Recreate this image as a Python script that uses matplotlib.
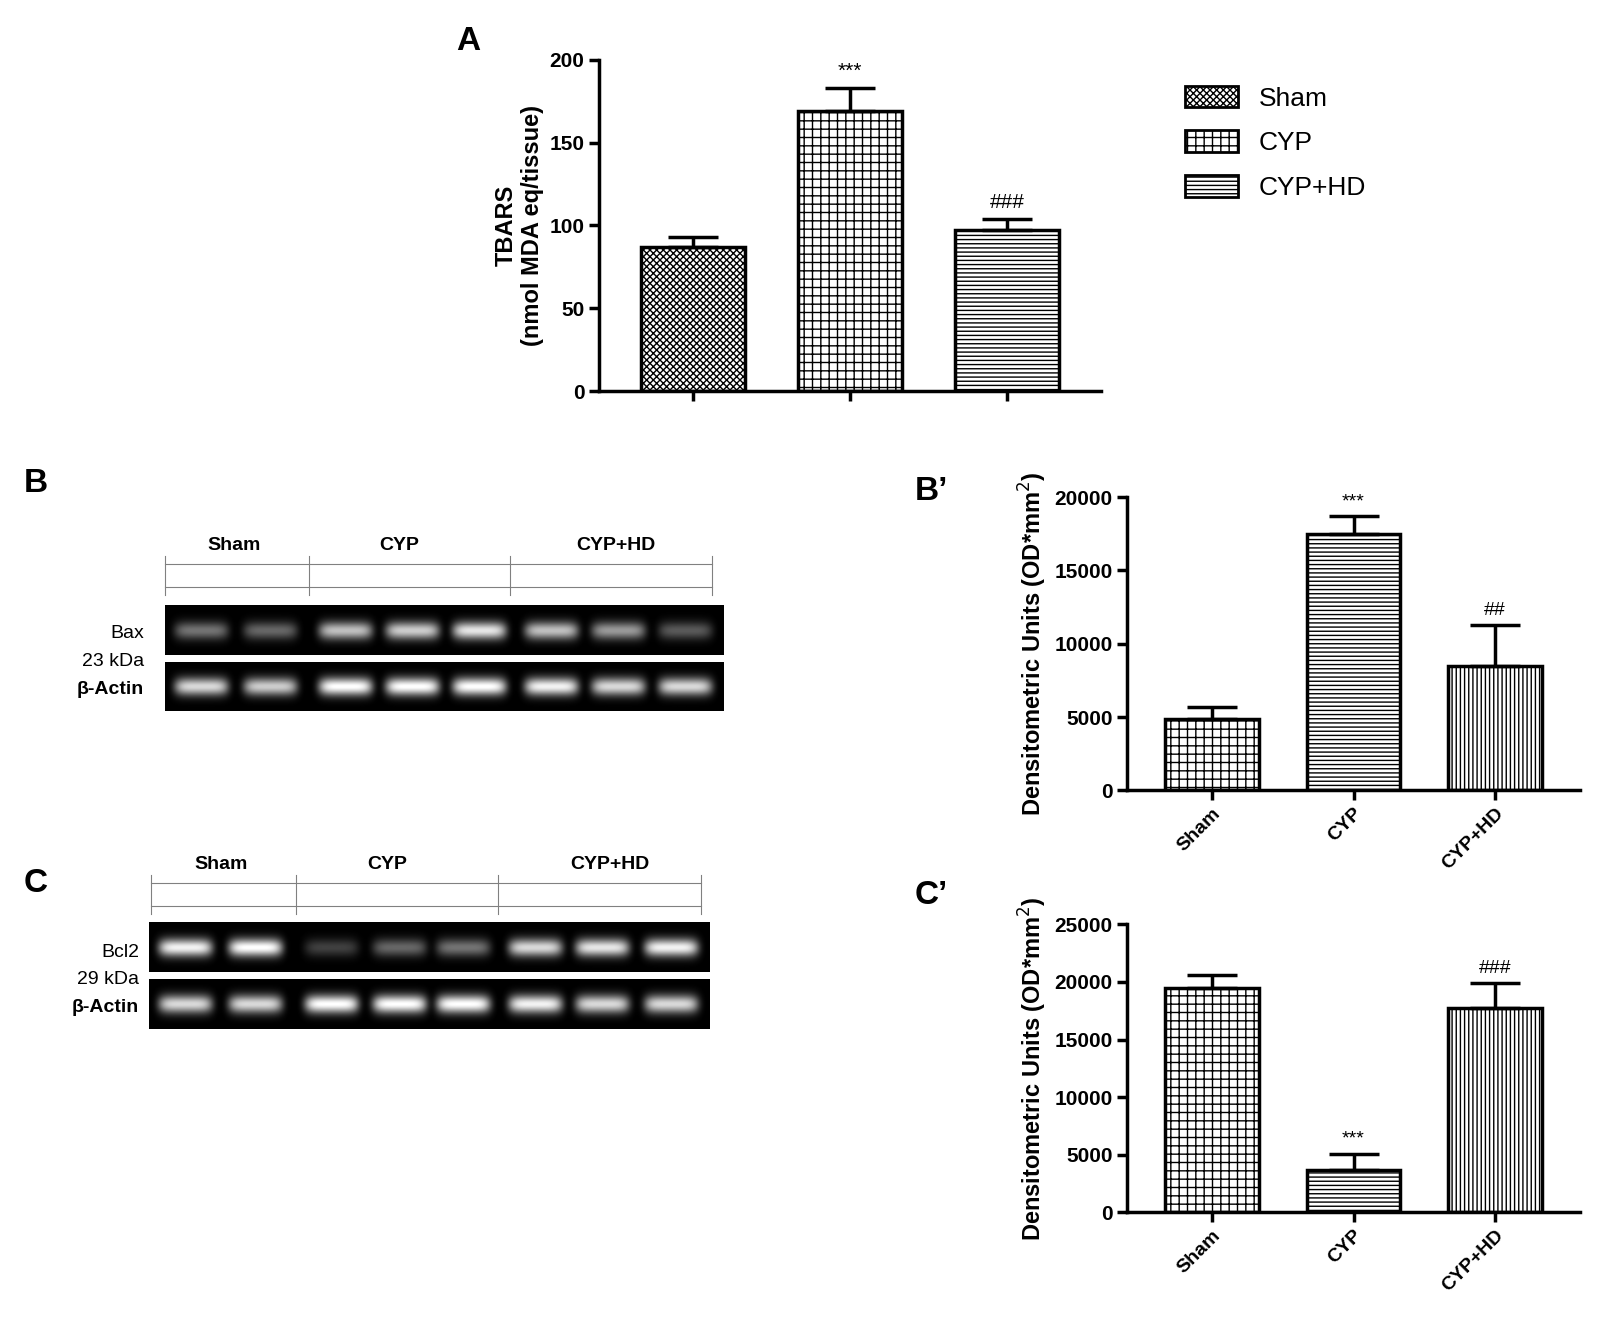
import numpy as np
import matplotlib
matplotlib.use("Agg")
import matplotlib.pyplot as plt
from matplotlib.patches import Patch

W, H = 1616, 1336
# layout coordinates below were measured on a scaled view of the reference
SW, SH = 1570, 1298
groups = ["Sham", "CYP", "CYP+HD"]

# Panel A: TBARS
tbars = [87, 169, 97]
tbars_err = [6, 14, 7]
tbars_marks = ["", "***", "###"]

# Panel B': Bax densitometry
bax = [4900, 17500, 8500]
bax_err = [800, 1200, 2800]
bax_marks = ["", "***", "##"]

# Panel C': Bcl2 densitometry
bcl2 = [19500, 3700, 17700]
bcl2_err = [1100, 1400, 2200]
bcl2_marks = ["", "***", "###"]

# Blot band intensities (8 lanes: 2 Sham, 3 CYP, 3 CYP+HD)
bax_bands = [0.45, 0.4, 0.75, 0.8, 0.9, 0.75, 0.6, 0.35]
actin_b = [0.85, 0.8, 1.0, 1.0, 1.0, 0.95, 0.85, 0.85]
bcl2_bands = [0.95, 1.0, 0.25, 0.4, 0.45, 0.85, 0.9, 0.95]
actin_c = [0.85, 0.85, 1.0, 1.0, 1.0, 0.95, 0.85, 0.85]

plt.rcParams['font.family'] = ['Liberation Sans', 'DejaVu Sans']
plt.rcParams['hatch.linewidth'] = 1.0
fig = plt.figure(figsize=(W / 100, H / 100), dpi=100)


def rect(x0, y0, x1, y1):
    return [x0 / SW, 1 - y1 / SH, (x1 - x0) / SW, (y1 - y0) / SH]


def ftext(x, y, s, **kw):
    fig.text(x / SW, 1 - y / SH, s, **kw)


def bar_panel(box, vals, errs, marks, hatches, ylim, yticks, ylabel, xlabels, fs_mark):
    ax = fig.add_axes(rect(*box))
    x = np.arange(3)
    ax.bar(x, vals, width=0.66, color="white", edgecolor="black", linewidth=2.5,
           hatch=hatches)
    ax.errorbar(x, vals, yerr=[np.zeros(3), errs], fmt="none", ecolor="black",
                elinewidth=2.5, capsize=18, capthick=2.5)
    for xi, v, e, m in zip(x, vals, errs, marks):
        if m:
            ax.text(xi, v + e + ylim * 0.02, m, ha="center", va="bottom", fontsize=fs_mark)
    ax.set_ylim(0, ylim)
    ax.set_xlim(-0.6, 2.6)
    ax.set_yticks(yticks)
    ax.set_xticks(x)
    for s in ["top", "right"]:
        ax.spines[s].set_visible(False)
    for s in ["left", "bottom"]:
        ax.spines[s].set_linewidth(2.5)
    ax.tick_params(width=2.5, length=7, labelsize=15)
    for t in ax.get_yticklabels():
        t.set_fontweight("bold")
    if xlabels:
        ax.set_xticklabels(groups, rotation=45, ha="right", rotation_mode="anchor",
                           fontsize=14, fontweight="bold")
    else:
        ax.set_xticklabels([])
    ax.set_ylabel(ylabel, fontsize=17, fontweight="bold")
    return ax


bar_panel((582, 58, 1070, 380), tbars, tbars_err, tbars_marks,
          ["xxxxx", "++", "----"], 200, [0, 50, 100, 150, 200],
          "TBARS\n(nmol MDA eq/tissue)", False, 15)
bar_panel((1095, 483, 1535, 768), bax, bax_err, bax_marks,
          ["++", "----", "||||"], 20000, [0, 5000, 10000, 15000, 20000],
          "Densitometric Units (OD*mm$^2$)", True, 14)
bar_panel((1095, 898, 1535, 1178), bcl2, bcl2_err, bcl2_marks,
          ["++", "----", "||||"], 25000, [0, 5000, 10000, 15000, 20000, 25000],
          "Densitometric Units (OD*mm$^2$)", True, 14)

# Legend for panel A
handles = [Patch(facecolor="white", edgecolor="black", linewidth=2, hatch=h)
           for h in ["xxxxx", "++", "----"]]
fig.legend(handles, groups, loc="upper left", bbox_to_anchor=(1128 / SW, 1 - 60 / SH),
           frameon=False, fontsize=19, handlelength=2.0, handleheight=0.9,
           labelspacing=0.75)


def blot_strip(box, bands, lanes_px):
    x0, y0, x1, y1 = box
    ax = fig.add_axes(rect(*box))
    nx, ny = int(x1 - x0), int(y1 - y0)
    xs = np.arange(nx)[None, :] + x0
    ys = np.arange(ny)[:, None]
    img = np.zeros((ny, nx))
    for cx, b in zip(lanes_px, bands):
        img += b * np.exp(-((xs - cx) / 26.0) ** 6) * np.exp(-((ys - ny / 2) / (ny * 0.18)) ** 2)
    ax.imshow(np.clip(img, 0, 1), cmap="gray", vmin=0, vmax=1, aspect="auto")
    ax.set_axis_off()


def blot_header(xticks, yline, ylab, labels_x):
    ax = fig.add_axes([0, 0, 1, 1], facecolor="none")
    ax.set_xlim(0, SW)
    ax.set_ylim(SH, 0)
    ax.set_axis_off()
    ax.plot([xticks[0], xticks[-1]], [yline, yline], color="gray", lw=0.8)
    ax.plot([xticks[0], xticks[-1]], [yline - 22, yline - 22], color="gray", lw=0.8)
    for xt in xticks:
        ax.plot([xt, xt], [yline - 30, yline + 8], color="gray", lw=0.8)
    for lx, g in zip(labels_x, groups):
        ax.text(lx, ylab, g, ha="center", va="center", fontsize=14, fontweight="bold")


lanes_b = [195, 262, 335, 400, 465, 535, 600, 665]
blot_strip((160, 588, 703, 636), bax_bands, lanes_b)
blot_strip((160, 643, 703, 691), actin_b, lanes_b)
blot_header([160, 300, 495, 692], 570, 530, [227, 388, 598])
ftext(140, 615, "Bax", ha="right", va="center", fontsize=14)
ftext(140, 643, "23 kDa", ha="right", va="center", fontsize=14)
ftext(140, 670, "β-Actin", ha="right", va="center", fontsize=14, fontweight="bold")

lanes_c = [180, 248, 322, 388, 450, 520, 585, 652]
blot_strip((145, 896, 690, 944), bcl2_bands, lanes_c)
blot_strip((145, 951, 690, 1000), actin_c, lanes_c)
blot_header([147, 288, 484, 681], 880, 840, [215, 376, 593])
ftext(135, 925, "Bcl2", ha="right", va="center", fontsize=14)
ftext(135, 952, "29 kDa", ha="right", va="center", fontsize=14)
ftext(135, 979, "β-Actin", ha="right", va="center", fontsize=14, fontweight="bold")

# Panel letters
for x, y, s in [(455, 40, "A"), (35, 470, "B"), (905, 478, "B’"),
                (35, 858, "C"), (905, 870, "C’")]:
    ftext(x, y, s, ha="center", va="center", fontsize=24, fontweight="bold")

fig.savefig("out.png", dpi=100)
